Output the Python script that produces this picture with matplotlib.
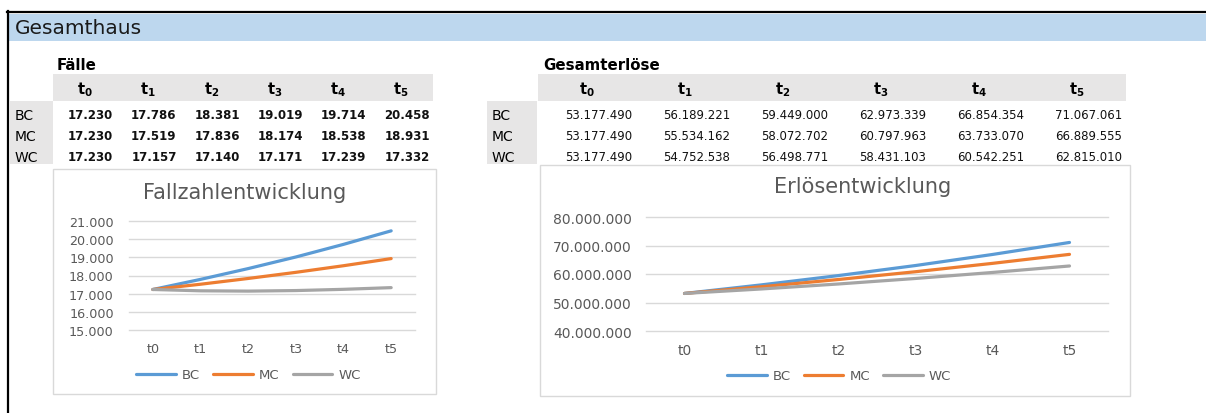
import matplotlib
matplotlib.use("Agg")
import matplotlib.pyplot as plt
from matplotlib.patches import Rectangle
from matplotlib.lines import Line2D
from matplotlib.ticker import FuncFormatter

# ---------------- data ----------------
periods = ["t0", "t1", "t2", "t3", "t4", "t5"]
period_headers = [r"$\mathbf{t_0}$", r"$\mathbf{t_1}$", r"$\mathbf{t_2}$",
                  r"$\mathbf{t_3}$", r"$\mathbf{t_4}$", r"$\mathbf{t_5}$"]
scenarios = ["BC", "MC", "WC"]

faelle_bc = [17230, 17786, 18381, 19019, 19714, 20458]
faelle_mc = [17230, 17519, 17836, 18174, 18538, 18931]
faelle_wc = [17230, 17157, 17140, 17171, 17239, 17332]

erloese_bc = [53177490, 56189221, 59449000, 62973339, 66854354, 71067061]
erloese_mc = [53177490, 55534162, 58072702, 60797963, 63733070, 66889555]
erloese_wc = [53177490, 54752538, 56498771, 58431103, 60542251, 62815010]

faelle_ticks = [15000, 16000, 17000, 18000, 19000, 20000, 21000]
erloese_ticks = [40000000, 50000000, 60000000, 70000000, 80000000]

series_colors = ["#5B9BD5", "#ED7D31", "#A5A5A5"]

# ---------------- helpers ----------------
W, H = 1206, 414
fig = plt.figure(figsize=(W / 100, H / 100), dpi=100)
fig.patch.set_facecolor("white")


def fx(px):
    return px / W


def fy(py):
    return 1 - py / H


def de(v):
    return f"{v:,.0f}".replace(",", ".")


def rect(x0, y0, x1, y1, fc, ec="none", lw=0, z=0):
    r = Rectangle((fx(x0), fy(y1)), (x1 - x0) / W, (y1 - y0) / H,
                  transform=fig.transFigure, facecolor=fc, edgecolor=ec,
                  linewidth=lw, zorder=z)
    fig.add_artist(r)


FONT = "DejaVu Sans"
GRAY_TXT = "#595959"
CELL = "#E7E6E6"

# ---------------- frame & header band ----------------
rect(9, 14.5, W, 42, "#BDD7EE")
fig.add_artist(Line2D([fx(7), fx(W)], [fy(12.8), fy(12.8)], transform=fig.transFigure,
                      color="black", lw=1.6))
fig.add_artist(Line2D([fx(8), fx(8)], [fy(12), fy(H)], transform=fig.transFigure,
                      color="black", lw=1.6))
fig.text(fx(15), fy(29), "Gesamthaus", fontsize=14.5, family=FONT, color="#1a1a1a",
         ha="left", va="center")


# ---------------- tables ----------------
def draw_table(title, x_title, x_lab0, x_lab1, x_tab0, col_w, values, val_size,
               val_weight, val_pad):
    fig.text(fx(x_title), fy(66), title, fontsize=10.8, family=FONT, weight="bold",
             ha="left", va="center", color="black")
    rect(x_tab0, 75, x_tab0 + 6 * col_w, 102, CELL)
    rect(x_lab0, 102, x_lab1, 165, CELL)
    for i, hdr in enumerate(period_headers):
        fig.text(fx(x_tab0 + (i + 0.5) * col_w), fy(90), hdr, fontsize=10.5,
                 family=FONT, ha="center", va="center", color="black")
    row_y = [115.5, 137, 158]
    for r, (lab, vals) in enumerate(zip(scenarios, values)):
        fig.text(fx(x_lab0 + 5), fy(row_y[r]), lab, fontsize=10, family=FONT,
                 ha="left", va="center", color="black")
        for i, v in enumerate(vals):
            fig.text(fx(x_tab0 + (i + 1) * col_w - val_pad), fy(row_y[r]), de(v),
                     fontsize=val_size, family=FONT, weight=val_weight,
                     ha="right", va="center", color="#111111")


draw_table("Fälle", 57, 10, 53, 53, 63.3,
           [faelle_bc, faelle_mc, faelle_wc], 8.5, "bold", 3)
draw_table("Gesamterlöse", 543, 487, 537, 538, 98,
           [erloese_bc, erloese_mc, erloese_wc], 8.5, "normal", 4)


# ---------------- charts ----------------
def draw_chart(box, plot, title, title_xy, series, ticks, tick_size, legend_xy,
               ypad):
    bx0, by0, bx1, by1 = box
    rect(bx0, by0, bx1, by1, "white", ec="#D9D9D9", lw=1.0, z=0.5)
    px0, py0, px1, py1 = plot
    ax = fig.add_axes([fx(px0), fy(py1), (px1 - px0) / W, (py1 - py0) / H])
    ax.set_facecolor("none")
    ax.set_zorder(2)
    x = list(range(len(periods)))
    for vals, lab, col in zip(series, scenarios, series_colors):
        ax.plot(x, vals, color=col, lw=2.3, label=lab, solid_capstyle="round",
                solid_joinstyle="round", zorder=3)
    ax.set_xlim(-0.5, len(periods) - 0.5)
    ax.set_ylim(ticks[0], ticks[-1])
    ax.set_yticks(ticks)
    ax.set_xticks(x)
    ax.set_xticklabels(periods)
    ax.yaxis.set_major_formatter(FuncFormatter(lambda v, p: de(v)))
    for s in ax.spines.values():
        s.set_visible(False)
    ax.grid(axis="y", color="#D9D9D9", lw=1.0)
    ax.set_axisbelow(True)
    for gl in ax.get_ygridlines():
        gl.set_clip_on(False)
    ax.tick_params(axis="both", length=0, labelsize=tick_size, labelcolor=GRAY_TXT)
    ax.tick_params(axis="x", pad=9)
    ax.tick_params(axis="y", pad=ypad)
    for t in ax.get_xticklabels() + ax.get_yticklabels():
        t.set_family(FONT)
    fig.text(fx(title_xy[0]), fy(title_xy[1]), title, fontsize=15, family=FONT,
             color=GRAY_TXT, ha="center", va="center")
    ax.legend(loc="center", bbox_to_anchor=(fx(legend_xy[0]), fy(legend_xy[1])),
              bbox_transform=fig.transFigure, ncol=3, frameon=False,
              labelcolor=GRAY_TXT, handlelength=3.0,
              handletextpad=0.45, columnspacing=1.0, prop={"family": FONT, "size": 9.5})
    return ax


draw_chart((53, 170, 436, 395), (129, 222, 415, 331), "Fallzahlentwicklung",
           (245, 193), [faelle_bc, faelle_mc, faelle_wc], faelle_ticks, 9.2,
           (248.5, 376), 11)
draw_chart((540, 166, 1130, 397), (646, 218, 1108, 332), "Erlösentwicklung",
           (863, 187), [erloese_bc, erloese_mc, erloese_wc], erloese_ticks, 10,
           (839, 377), 10)

fig.savefig("out.png", dpi=100)
